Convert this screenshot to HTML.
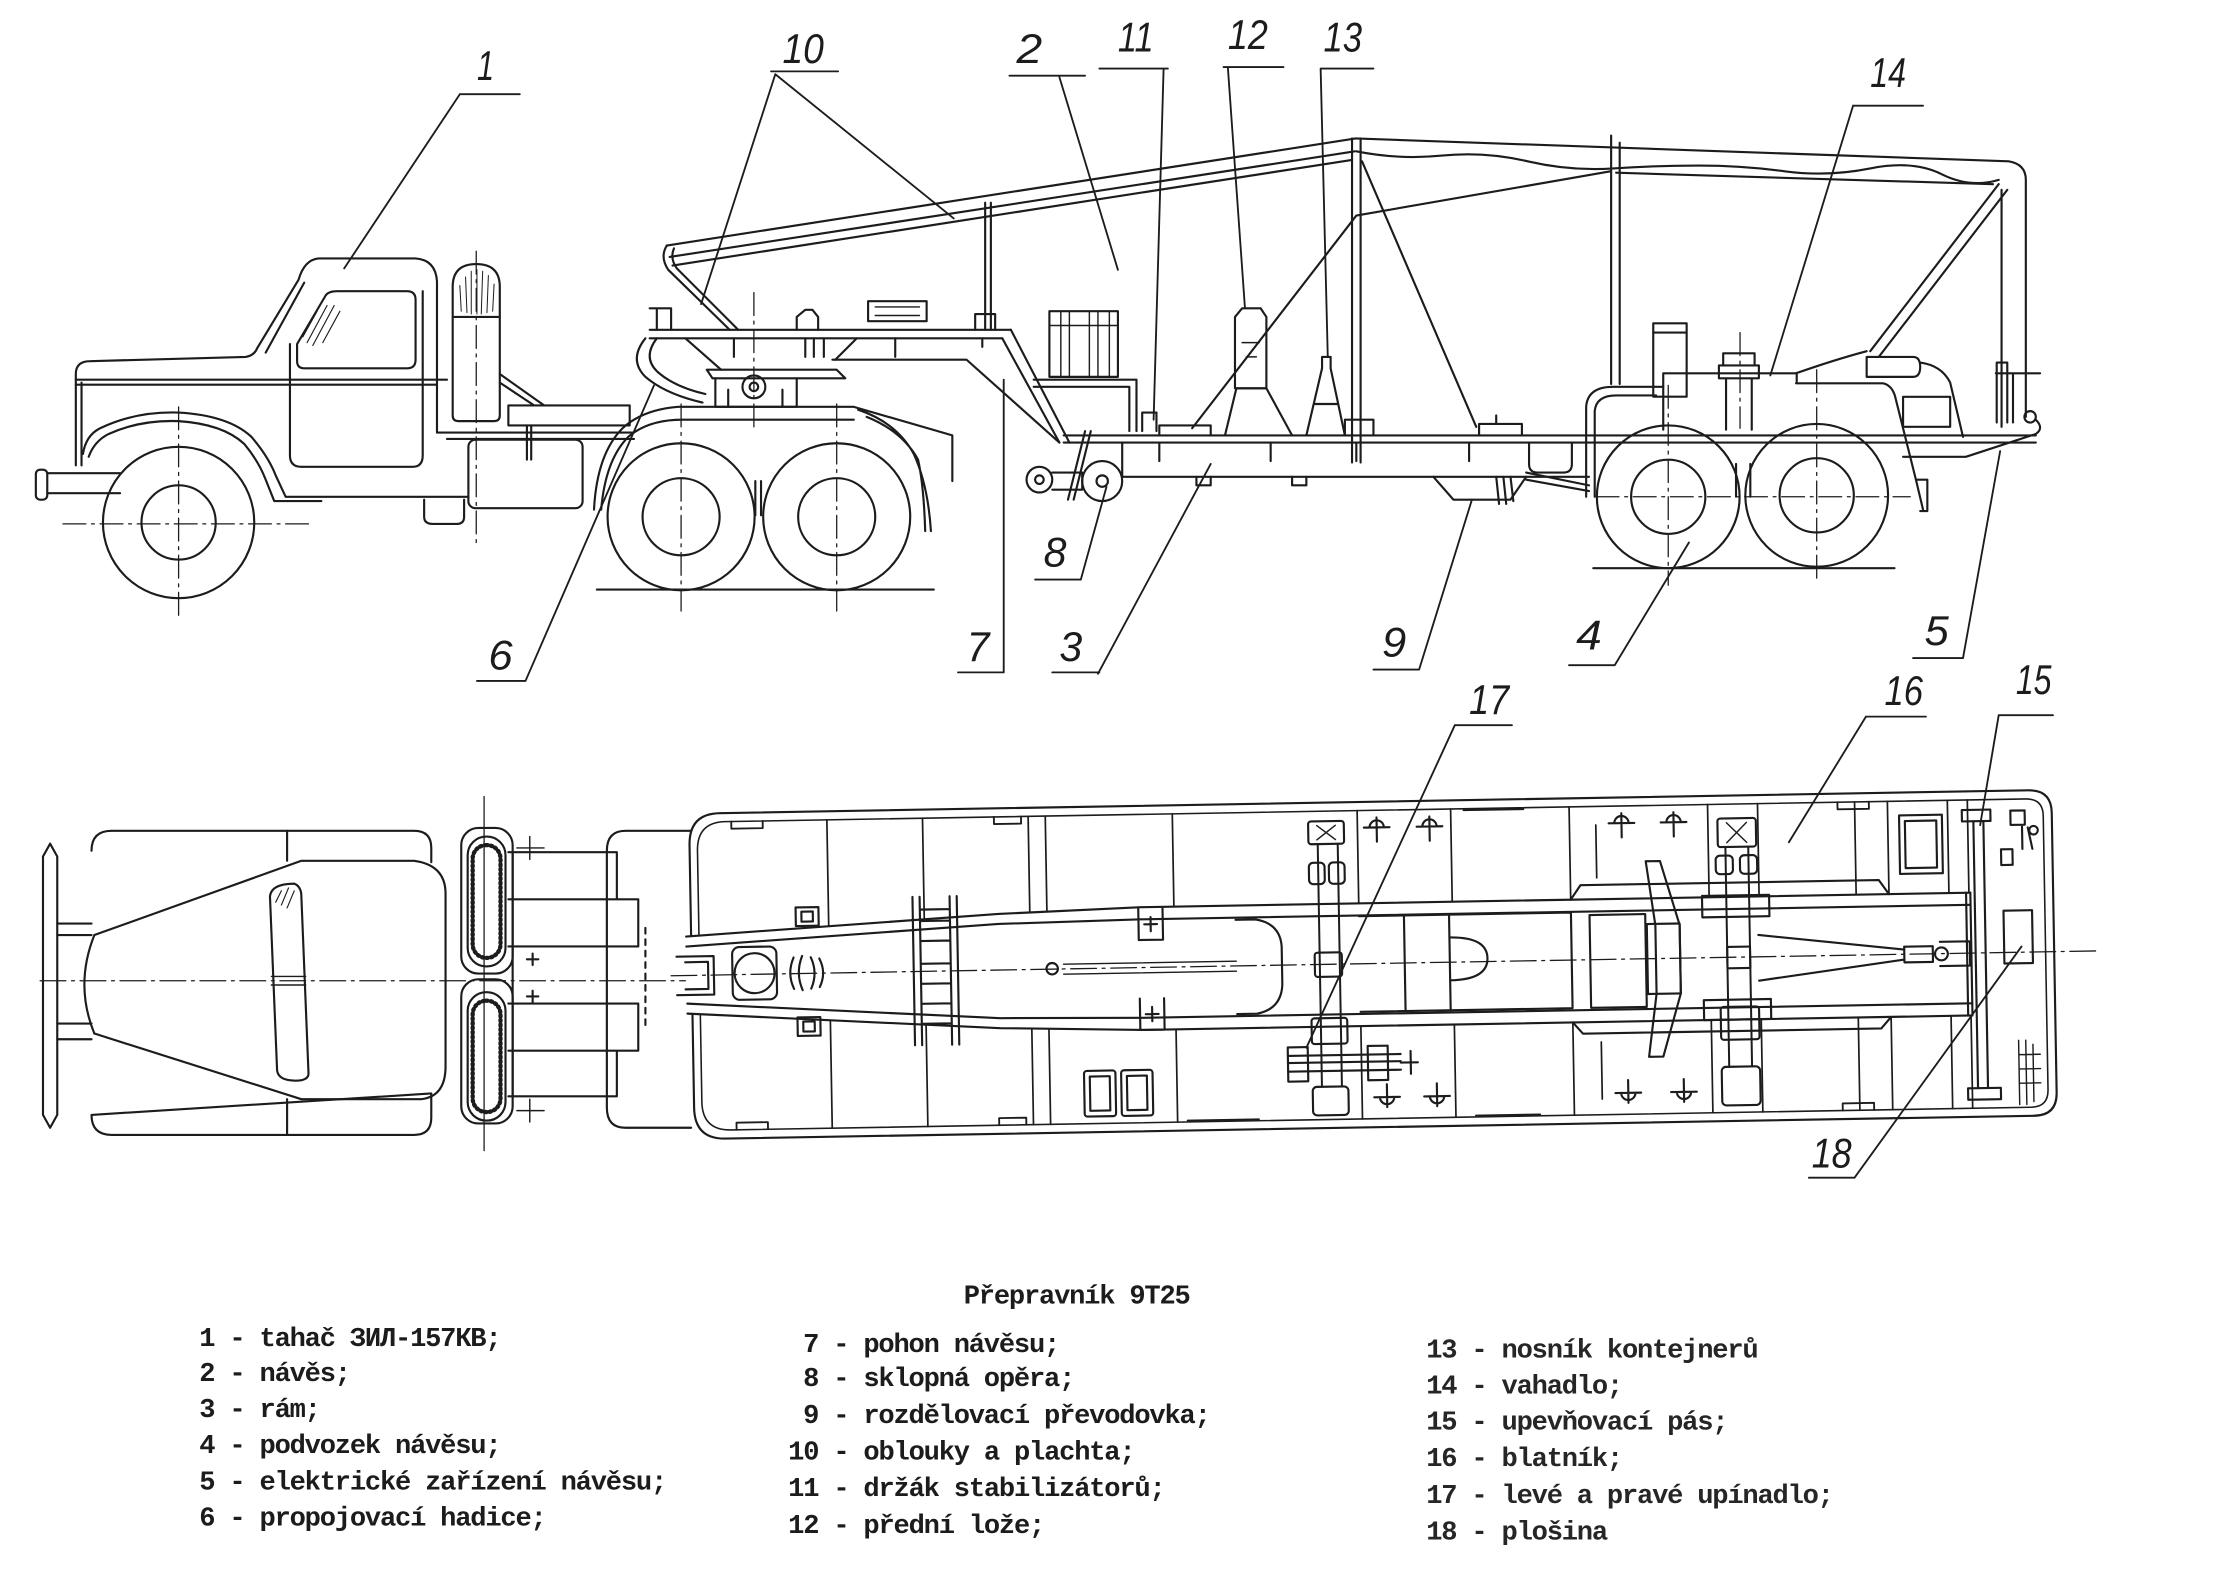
<!DOCTYPE html>
<html><head><meta charset="utf-8"><title>Přepravník 9T25</title>
<style>
html,body{margin:0;padding:0;background:#fff;}
svg{display:block;}
.n{font-family:"Liberation Sans",sans-serif;font-size:29px;font-style:italic;fill:#1c1c1c;}
.g{font-family:"Liberation Mono",monospace;font-size:19px;letter-spacing:-0.85px;font-weight:bold;fill:#1c1c1c;}
.h{font-family:"Liberation Mono",monospace;font-size:19px;letter-spacing:-0.85px;font-weight:bold;fill:#262626;}
</style></head><body>
<svg xmlns="http://www.w3.org/2000/svg" width="2213" height="1576" viewBox="0 0 1550 1104">
<rect width="1550" height="1104" fill="#fff"/>
<g fill="none" stroke="#1c1c1c" stroke-width="1.5" stroke-linecap="round" stroke-linejoin="round">

<!-- ================= SIDE VIEW : TRACTOR ================= -->
<rect x="25" y="329" width="8" height="21" rx="3"/>
<path d="M33 331.5H84M33 345.5H84"/>
<path d="M53 326V262Q53 253 63 253L172 250Q178 249 180 244L209 196Q213 182 223 181H291Q305 182 306 197V303"/>
<path d="M57 326V268"/>
<path d="M53 266H313M53 269.5H306"/>
<path d="M186 247L213 198"/>
<path d="M203 241V319Q203 327 211 327H289Q296 327 296 319V204"/>
<path d="M208 253V241L228 207Q230 204 236 204H285Q291 204 291 210V252Q291 258 285 258H213Q208 258 208 253Z"/>
<path d="M212 236L222 218M215 240L229 214M219 242L234 214M226 240L238 218" stroke-width="0.8"/>
<path d="M58 318Q60 305 70 300Q95 288 125 289Q160 291 176 306Q188 320 193 333L200 348H328"/>
<path d="M62 320Q66 309 76 304Q98 294 125 295Q156 297 171 311Q181 323 186 336L192 351H225"/>
<path d="M297 350V362Q297 367 303 367H320Q325 367 325 362V350"/>
<circle cx="125" cy="366" r="53"/>
<circle cx="125" cy="366" r="26"/>
<path d="M317 291V201Q317 185 333.5 185Q350 185 350 201V291Q350 295 346 295H321Q317 295 317 291Z"/>
<path d="M318 222H349"/>
<path d="M322 200L323 218M326 194L327 219M330 190L330 220M334 189L334 220M338 190L337 220M342 193L341 219M346 199L345 218" stroke-width="0.7"/>
<path d="M306 303H444M313 307.5H444"/>
<rect x="356" y="284" width="85" height="14"/>
<path d="M350 262L381 284M350 268L374 284"/>
<rect x="328" y="308" width="80" height="48" rx="5"/>
<path d="M369 298V322M372 298V322"/>
<path d="M416 357Q418 318 436 300Q450 287 475 285H598L667 305V337"/>
<path d="M421 357Q424 322 440 306Q454 294 478 294H598"/>
<path d="M601 287Q628 296 640 318Q650 340 652 372M607 292Q632 302 643 322Q647 340 648 372"/>
<circle cx="477" cy="362" r="51.5"/><circle cx="477" cy="362" r="27"/>
<circle cx="586" cy="362" r="51.5"/><circle cx="586" cy="362" r="27"/>
<path d="M529 337V361M533 337V361"/>
<path d="M418 413H654"/>

<!-- fifth wheel + gooseneck -->
<path d="M495 259H586L592 265H499Z"/>
<path d="M501 265V285H558V265M510 273V285M548 273V285"/>
<circle cx="528" cy="271" r="8"/><circle cx="528" cy="271" r="3"/>
<path d="M455 231H708M455 237H702"/>
<path d="M708 231L749 310M702 237L742 310"/>
<path d="M583 252H677L742 310"/>
<path d="M724 266H796V302M724 271H791V302"/>
<rect x="735" y="218" width="48" height="46"/>
<path d="M743 218V264M749 218V264M763 218V264M769 218V264M777 218V264M735 228H783" stroke-width="1"/>
<path d="M455 216H470V231M460 216V231"/>
<path d="M452 237Q440 252 452 264Q466 276 492 282M460 237Q450 250 460 260Q472 271 494 276"/>
<rect x="608" y="211" width="41" height="14"/>
<path d="M613 215H644M613 221H644" stroke-width="1"/>
<path d="M558 231V222L564 217H569L573 222V231"/>
<path d="M683 231V220H697V231"/>
<path d="M514 237V250M564 237V250M570 237V250M577 237V250M627 237V250M688 237V243"/>
<path d="M480 237L505 259M600 237L585 252"/>
<path d="M467 172Q462 180 468 189L511 231"/>
<path d="M472 174Q469 181 474 188L517 231"/>
<path d="M690 142V231M694 142V231"/>

<!-- tarp -->
<path d="M467 172L949.5 97L1407 113Q1419 115 1419 126V292"/>
<path d="M469 180L949 106"/>
<path d="M471 186L947 112"/>
<path d="M950 106Q980 112 1010 109T1070 113T1130 118T1190 116T1250 120T1310 118T1360 122T1400 126"/>
<path d="M1132 121L1396 129"/>
<path d="M1402 133V299"/>
<path d="M947 97V324M953 97V324"/>
<path d="M1128.5 95V269M1134.5 100V269"/>
<path d="M954 113L1034 299"/>
<path d="M1128 120L950 151L835 300"/>
<path d="M1400 129L1310 246M1406 133L1316 250"/>

<!-- trailer frame -->
<path d="M745 305H1426M745 310H1426"/>
<path d="M786 310V334H1113"/>
<path d="M1426 294Q1432 300 1426 304L1377 320H1333"/>
<circle cx="728" cy="336" r="9"/><circle cx="728" cy="336" r="3"/>
<circle cx="772" cy="337" r="14"/><circle cx="772" cy="337" r="4"/>
<path d="M737 331H758V343H737"/>
<path d="M760 302L748 350M764 302L752 350"/>
<path d="M865 272V222L870 216H883L887 222V272Z"/>
<path d="M870 240H882M873 250H880" stroke-width="1"/>
<path d="M858 305L866 272H887L905 305"/>
<path d="M915 305L926 258V250H932V258L942 305"/>
<path d="M921 283H937"/>
<path d="M942 305V294H962V305"/>
<path d="M800 302V289H810V302"/>
<path d="M812 305V298H848V305"/>
<path d="M1036 305V297H1066V305M1048 297V291"/>
<path d="M812 310V323M890 310V323M950 310V323M1029 310V323"/>
<path d="M838 334V340H848V334M905 334V340H915V334"/>
<path d="M1004 334L1018 350H1058L1069 334"/>
<path d="M1048 334L1050 353M1053 334L1055 353M1058 334L1060 351"/>
<path d="M1069 331L1113 340M1069 336L1113 344"/>
<path d="M1071 310V325Q1071 331 1077 331H1095Q1101 331 1101 325V310"/>

<!-- bogie -->
<circle cx="1168.5" cy="348" r="50"/><circle cx="1168.5" cy="348" r="26"/>
<circle cx="1272.5" cy="347" r="50"/><circle cx="1272.5" cy="347" r="26"/>
<path d="M1116 398H1327"/>
<path d="M1111 348V285Q1112 271 1130 271H1165"/>
<path d="M1117 348V288Q1118 277 1132 277H1160"/>
<rect x="1158" y="226.5" width="23.4" height="51.4"/>
<path d="M1158 233H1181"/>
<path d="M1165 261.5H1258.5M1165 261.5V301M1258.5 261.5V268"/>
<path d="M1207 247.5H1229V256H1207ZM1204 256H1232V265H1204ZM1209 265V301M1227 265V301"/>
<path d="M1258 261.5Q1285 252 1307.5 246"/>
<path d="M1307.5 250H1340Q1345 250 1345 257Q1345 264 1340 264H1307.5Z"/>
<path d="M1345 254Q1360 256 1366 268L1375 306"/>
<rect x="1333" y="278" width="33" height="21"/>
<path d="M1258 268.5H1319Q1326 270 1328 280L1342 336L1347 357"/>
<path d="M1342 336H1350V358H1345"/>
<path d="M1216 325V348M1226 325V348"/>
<path d="M1398.6 296V254H1406V296M1410 262V296M1398 261.5H1429"/>
<circle cx="1422" cy="292" r="4"/>

<!-- centre lines side view -->
<g stroke-width="0.9" stroke-dasharray="16 4 2 4">
<path d="M44 367H217M125 285V434M477 283V428M586 283V428M528 205V300M333.5 176V380"/>
<path d="M1118 348H1338M1168.5 270V410M1272.5 259V405M1218.8 233V300"/>
</g>

<!-- ================= PLAN VIEW : TRACTOR ================= -->
<path d="M30 600L35 591L40 600V781L35 790L30 781Z"/>
<path d="M40 647H64M40 655H64M40 717H64M40 728H64"/>
<path d="M64 596Q64 582 78 582H290Q302 582 302 594V604M302 766V783Q302 795 290 795H78Q64 795 64 781Z"/>
<path d="M66 655L211 603H290Q312 606 312 626V747Q312 768 295 770H211L66 724"/>
<path d="M66 655Q52 690 66 724"/>
<path d="M201 582V603M201 770V795"/>
<path d="M189 628Q190 619 206 619Q211 621 211 628L216 752Q216 757 207 757Q195 757 194 750Z"/>
<path d="M190 684H214M190 690H214" stroke-width="1"/>
<path d="M193 632L197 624M197 634L202 622M201 636L206 624" stroke-width="0.8"/>
<rect x="323" y="580" width="36" height="102" rx="12"/>
<rect x="323" y="686" width="36" height="101" rx="12"/>
<rect x="327.5" y="586" width="26.5" height="91" rx="13"/>
<rect x="327.5" y="695" width="26.5" height="90" rx="13"/>
<rect x="331" y="592" width="19.5" height="79" rx="9.5" stroke-width="3" stroke-dasharray="1 2.2"/>
<rect x="331" y="701" width="19.5" height="78" rx="9.5" stroke-width="3" stroke-dasharray="1 2.2"/>
<path d="M339 558V806" stroke-width="0.9"/>
<path d="M362 594H381M371 586V602M362 778H381M371 770V786" stroke-width="1"/>
<path d="M356 597H432V630M356 630H447V663H356M356 703H447V736H356M432 736V768H356M359 597V768"/>
<path d="M373 668V676M369 672H377M373 694V702M369 698H377"/>
<path d="M484 582H438Q425 582 425 596V776Q425 790 438 790H484"/>
<path d="M452 650V720" stroke-dasharray="4 4"/>
<path d="M28 687H480" stroke-width="0.9" stroke-dasharray="18 4 2 4"/>

<!-- ================= PLAN VIEW : TRAILER ================= -->
<g transform="rotate(-1 484 683.3)">
<path d="M581 576V792M648 576V792M722 576V792M734 576V792M823 576V792M952.5 576V792M1018 576V792M1101 576V792M1198 576V792M1233 576V792M1301 576V792M1324 576V792M1366 576V792M1380 576V792" stroke-width="1.2"/>
<path d="M506 570H1423Q1439 570 1439 586V782Q1439 798 1423 798H506Q484.5 798 484.5 776V592Q484.5 570 506 570Z"/>
<path d="M510 576H1421Q1433 576 1433 588V780Q1433 792 1421 792H510Q490 792 490 772V596Q490 576 510 576Z" stroke-width="1.1"/>
<path d="M514 576V581H536V576M698 576V581H717V576M1027 577H1069M1289 576V581H1311V576M514 792V787H536V792M698 792V787H717V792M830 791H880M1032 791H1077M1289 792V787H1311V792" stroke-width="1.3"/>
<path d="M481 656L700 644L800 641H1381V727H800L700 724L481 710Z" fill="#fff" stroke="none"/>
<path d="M481 656L700 644L800 641H1381M481 663L700 651L800 649.5H1381M481 703L700 717L800 718.5H1381M481 710L700 724L800 727H1381"/>
<path d="M1378 641V727M1381 641V727"/>
<path d="M470 683.3H1470" stroke-width="0.9" stroke-dasharray="18 4 2 4"/>
<rect x="513" y="664" width="31" height="37" rx="5"/>
<circle cx="528.5" cy="682.5" r="14"/>
<path d="M556 672Q551 683 556 694M562 671Q557 683 562 695M568 672Q573 683 568 694M574 673Q579 683 574 693"/>
<rect x="558" y="637" width="16" height="13"/><rect x="562" y="640" width="8" height="7"/>
<rect x="558" y="714" width="16" height="13"/><rect x="562" y="717" width="8" height="7"/>
<path d="M474 670H500V697H474M480 674H496V693H480"/>
<path d="M640 631V735M645 631V735M666 631V735M671 631V735M645 640H666M645 648H666M645 662H666M645 678H666M645 692H666M645 706H666M645 720H666"/>
<circle cx="737" cy="683" r="4"/>
<path d="M798 642V664H815V642M798 705V727H815V705"/>
<path d="M806.5 648V658M802 653H811M806.5 711V721M802 716H811"/>
<path d="M866 651H880Q897 654 898 670V697Q897 714 880 717H866"/>
<path d="M745 680H866M745 687H866" stroke-width="1"/>
<path d="M952.5 650H1101V717H952.5"/>
<path d="M984 650V717M1015.6 650V717"/>
<path d="M1015.6 666Q1042 666 1042 681Q1042 696 1015.6 696"/>
<path d="M1114 652H1153V717H1114Z"/>
<path d="M1101 641L1108 631H1317L1324 641M1101 727L1108 735H1317L1324 727"/>
<path d="M1232 668L1334 680M1232 700L1334 687"/>
<rect x="1334" y="678" width="20" height="11"/>
<circle cx="1360" cy="683.5" r="4.5"/>
<path d="M1359 675H1380V692H1359"/>
<path d="M1119.5 589V626M1120.7 741V781" stroke-width="1.2"/>
<!-- axle 1 -->
<path d="M924.5 599V769M938.5 599V769" stroke-width="1.4"/>
<rect x="918" y="583" width="25" height="16" rx="2"/>
<path d="M924 586L937 596M937 586L924 596" stroke-width="1"/>
<rect x="918" y="612" width="11" height="15" rx="3"/><rect x="932" y="612" width="11" height="15" rx="3"/>
<rect x="921" y="675" width="19" height="17" rx="2"/>
<rect x="918" y="721" width="25" height="18" rx="2"/>
<rect x="918" y="769" width="25" height="20" rx="3"/>
<rect x="901" y="741" width="14" height="24"/>
<rect x="957" y="741" width="14" height="24"/>
<path d="M901 747H980M901 752H980M901 758H980M987 745V761M980 753H992"/>
<!-- axle 2 -->
<path d="M1210 606V760M1226 606V760" stroke-width="1.4"/>
<rect x="1204.7" y="586" width="26.9" height="20" rx="2"/>
<path d="M1211 589L1225 603M1225 589L1211 603" stroke-width="1"/>
<rect x="1203" y="612" width="12" height="13" rx="3"/><rect x="1220" y="612" width="12" height="13" rx="3"/>
<rect x="1193" y="640" width="47" height="15"/>
<rect x="1193" y="713" width="47" height="14"/>
<rect x="1210" y="676" width="16" height="15"/>
<rect x="1204.7" y="718" width="26.9" height="23" rx="2"/>
<rect x="1204.7" y="760" width="26.9" height="27" rx="3"/>
<path d="M1154 615H1164L1177 660V708L1164 752H1154L1160 708V660Z"/>
<rect x="1154" y="659" width="23" height="49"/>
<!-- anchors -->
<path d="M957 588H975M961 588A5 5 0 0 1 971 588M966 581V598"/>
<path d="M994 588H1012M998 588A5 5 0 0 1 1008 588M1003 581V598"/>
<path d="M1128.5 588H1146.5M1132.5 588A5 5 0 0 1 1142.5 588M1137.5 581V598"/>
<path d="M1165 588H1183M1169 588A5 5 0 0 1 1179 588M1174 581V598"/>
<path d="M961 777H979M965 777A5 5 0 0 0 975 777M970 768V784"/>
<path d="M996 777H1014M1000 777A5 5 0 0 0 1010 777M1005 768V784"/>
<path d="M1130 777H1148M1134 777A5 5 0 0 0 1144 777M1139 768V784"/>
<path d="M1169 777H1187M1173 777A5 5 0 0 0 1183 777M1178 768V784"/>
<!-- boxes -->
<rect x="758" y="755" width="22" height="32" rx="2"/><rect x="762" y="759" width="14" height="24"/>
<rect x="784" y="755" width="22" height="32" rx="2"/><rect x="788" y="759" width="14" height="24"/>
<rect x="1332" y="586" width="30" height="41"/>
<rect x="1336" y="590" width="22" height="33"/>
<path d="M1384 591V778M1391 591V778"/>
<rect x="1376" y="583" width="20" height="8"/>
<rect x="1377" y="778" width="23" height="8"/>
<rect x="1404" y="654" width="20" height="37"/>
<rect x="1403" y="611" width="8" height="11"/>
<path d="M1410 584H1420V594H1410ZM1418 594V611M1422 596L1425 611"/>
<circle cx="1426" cy="598" r="3"/>
<path d="M1413 745V790M1418 745V790M1423 748V788M1413 755H1428M1413 765H1428M1413 775H1428" stroke-width="1"/>
</g>

<!-- ================= LEADERS ================= -->
<g stroke-width="1.3">
<path d="M322 66H364M322 66L241 188"/>
<path d="M540 50H587M543 52L491 213M543 52L668 153"/>
<path d="M707 53H760M742 54L783 189"/>
<path d="M770 48H818M815 48L808 294"/>
<path d="M857 47H899M860 47L872 216"/>
<path d="M925 48H962M925 48L930 250"/>
<path d="M1298 74H1347M1298 74L1240 263"/>
<path d="M725 406H757M757 406L775 341"/>
<path d="M334 477H368M368 477L458 270"/>
<path d="M671 471H703M703 471V266"/>
<path d="M737 471H770M769 472L848 325"/>
<path d="M962 469H994M994 469L1031 350"/>
<path d="M1099 466H1131M1131 466L1183 380"/>
<path d="M1340 461H1375M1375 461L1401 316"/>
<path d="M1019 508H1059M1019 508L915 734"/>
<path d="M1307 502H1349M1307 502L1253 590"/>
<path d="M1400 501H1438M1400 501L1387 578"/>
<path d="M1267 825H1299M1299 825L1416 663"/>
</g>
</g>

<!-- ================= LABEL NUMBERS ================= -->
<text class="n" x="334" y="56" textLength="12" lengthAdjust="spacingAndGlyphs">1</text>
<text class="n" x="548" y="44" textLength="29" lengthAdjust="spacingAndGlyphs">10</text>
<text class="n" x="712" y="44" textLength="18" lengthAdjust="spacingAndGlyphs">2</text>
<text class="n" x="783" y="36" textLength="25" lengthAdjust="spacingAndGlyphs">11</text>
<text class="n" x="860" y="34.5" textLength="28" lengthAdjust="spacingAndGlyphs">12</text>
<text class="n" x="927" y="36" textLength="27" lengthAdjust="spacingAndGlyphs">13</text>
<text class="n" x="1310" y="61" textLength="25" lengthAdjust="spacingAndGlyphs">14</text>
<text class="n" x="731" y="397" textLength="16" lengthAdjust="spacingAndGlyphs">8</text>
<text class="n" x="342" y="469" textLength="17" lengthAdjust="spacingAndGlyphs">6</text>
<text class="n" x="677" y="463" textLength="16" lengthAdjust="spacingAndGlyphs">7</text>
<text class="n" x="742" y="463" textLength="16" lengthAdjust="spacingAndGlyphs">3</text>
<text class="n" x="968" y="460" textLength="17" lengthAdjust="spacingAndGlyphs">9</text>
<text class="n" x="1104" y="455" textLength="18" lengthAdjust="spacingAndGlyphs">4</text>
<text class="n" x="1348" y="452" textLength="17" lengthAdjust="spacingAndGlyphs">5</text>
<text class="n" x="1029" y="500" textLength="28" lengthAdjust="spacingAndGlyphs">17</text>
<text class="n" x="1320" y="494" textLength="27" lengthAdjust="spacingAndGlyphs">16</text>
<text class="n" x="1412" y="486" textLength="25" lengthAdjust="spacingAndGlyphs">15</text>
<text class="n" x="1269" y="818" textLength="28" lengthAdjust="spacingAndGlyphs">18</text>

<!-- ================= LEGEND ================= -->
<text class="g" x="675" y="913">Přepravník 9T25</text>
<text class="g" x="139.5" y="943">1 - tahač ЗИЛ-157КВ;</text>
<text class="g" x="139.5" y="967.5">2 - návěs;</text>
<text class="g" x="139.5" y="992.5">3 - rám;</text>
<text class="g" x="139.5" y="1018">4 - podvozek návěsu;</text>
<text class="g" x="139.5" y="1043.5">5 - elektrické zařízení návěsu;</text>
<text class="g" x="139.5" y="1068.5">6 - propojovací hadice;</text>
<text class="g" x="562.5" y="947">7 - pohon návěsu;</text>
<text class="g" x="562.5" y="971">8 - sklopná opěra;</text>
<text class="g" x="562.5" y="997">9 - rozdělovací převodovka;</text>
<text class="g" x="552" y="1022.5">10 - oblouky a plachta;</text>
<text class="g" x="552" y="1048">11 - držák stabilizátorů;</text>
<text class="g" x="552" y="1074">12 - přední lože;</text>
<text class="h" x="999" y="951">13 - nosník kontejnerů</text>
<text class="h" x="999" y="976">14 - vahadlo;</text>
<text class="h" x="999" y="1001.5">15 - upevňovací pás;</text>
<text class="h" x="999" y="1027">16 - blatník;</text>
<text class="h" x="999" y="1053">17 - levé a pravé upínadlo;</text>
<text class="h" x="999" y="1078.5">18 - plošina</text>
</svg>
</body></html>
